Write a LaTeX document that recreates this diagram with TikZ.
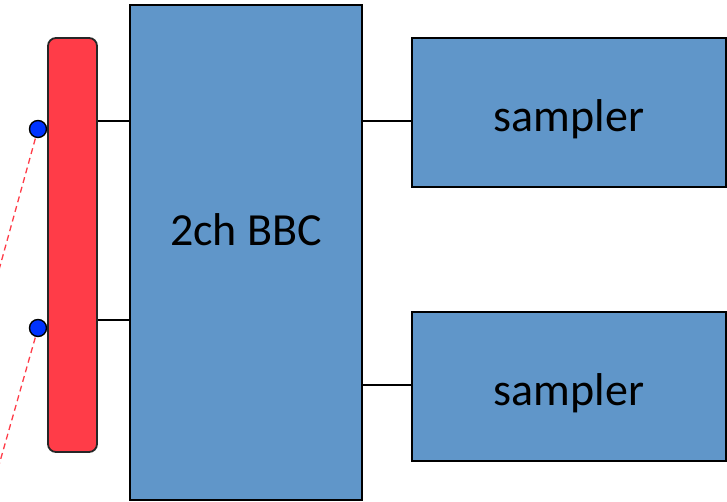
\documentclass[tikz,border=0pt]{standalone}
\usepackage{fontspec}
\setmainfont{Carlito}
\definecolor{boxblue}{RGB}{96,150,201}
\definecolor{railred}{RGB}{255,60,72}
\definecolor{dotblue}{RGB}{0,51,255}
\tikzset{
  block/.style={draw=black, line width=1.4pt, fill=boxblue, inner sep=0pt},
  caption/.style={inner sep=0pt, font=\fontsize{46}{52}\selectfont},
  rail/.style={draw=black!85, line width=1.8pt, fill=railred, rounded corners=8pt, inner sep=0pt},
  wire/.style={draw=black, line width=1.4pt},
  probe/.style={circle, draw=black, line width=1.4pt, fill=dotblue, minimum size=17pt, inner sep=0pt},
  feed/.style={draw=railred, line width=1.3pt, dash pattern=on 6pt off 4pt},
}
\begin{document}
\begin{tikzpicture}[x=1pt,y=1pt]
  \useasboundingbox (0,0) rectangle (727,502);
  \clip (0,0) rectangle (727,502);

  % rail and processing blocks
  \node[rail, minimum width=49pt, minimum height=414pt] (rail) at (72.5,257) {};
  \node[block, minimum width=232pt, minimum height=495pt] (bbc) at (246,249.5) {};
  \node[block, minimum width=314pt, minimum height=149pt] (s1) at (569,389.5) {};
  \node[block, minimum width=314pt, minimum height=149pt] (s2) at (569,115.5) {};

  % block captions
  \node[caption] (bbctext) at ([yshift=23pt]bbc.center) {2ch BBC};
  \node[caption] (s1text) at ([yshift=-7pt]s1.center) {sampler};
  \node[caption] (s2text) at ([yshift=-7pt]s2.center) {sampler};

  % wiring between blocks
  \coordinate (ya) at (0,381);
  \coordinate (yb) at (0,182);
  \coordinate (yc) at (0,117);
  \draw[wire] (rail.east |- ya) -- (bbc.west |- ya);
  \draw[wire] (rail.east |- yb) -- (bbc.west |- yb);
  \draw[wire] (bbc.east |- ya) -- (s1.west |- ya);
  \draw[wire] (bbc.east |- yc) -- (s2.west |- yc);

  % probe contacts with their dashed feed lines
  \coordinate (p1) at (38,373);
  \coordinate (p2) at (38,174);
  \coordinate (f1) at (-3,225);
  \coordinate (f2) at (-3,30);
  \draw[feed] (p1) -- (f1);
  \draw[feed] (p2) -- (f2);
  \node[probe] (d1) at (p1) {};
  \node[probe] (d2) at (p2) {};
\end{tikzpicture}
\end{document}
